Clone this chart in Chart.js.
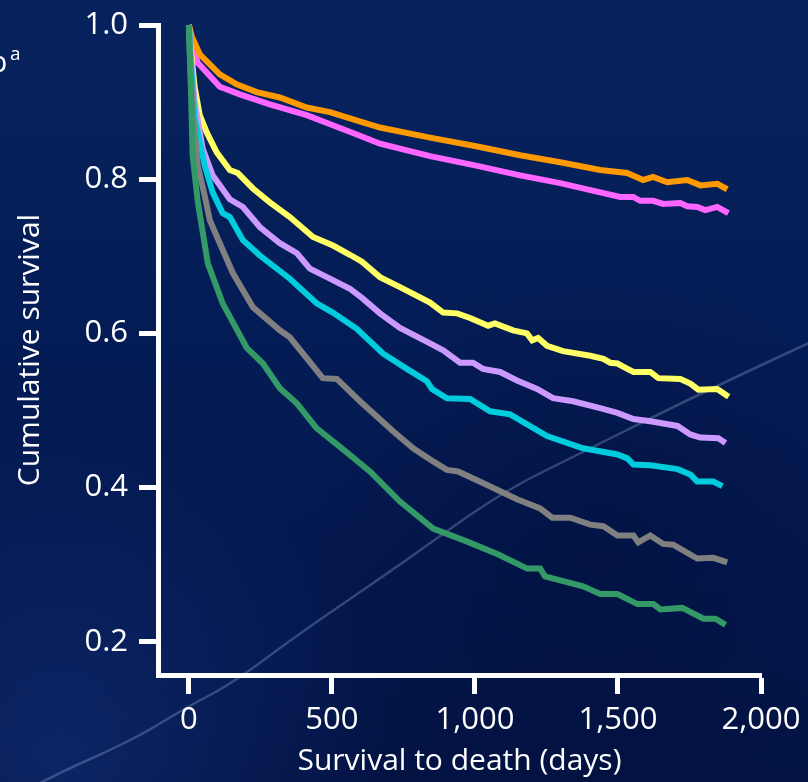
<!DOCTYPE html>
<html>
<head>
<meta charset="utf-8">
<script src="https://cdn.jsdelivr.net/npm/chart.js@4"></script>
<style>
  html, body { margin: 0; padding: 0; background: #05205a; }
  #wrap { width: 808px; height: 782px; position: relative; }
  canvas { display: block; }
</style>
</head>
<body>
<div id="wrap"><canvas id="c" width="808" height="782"></canvas></div>
<script>
// ---- data ----
const xTicks = [0, 500, 1000, 1500, 2000];
const yTicks = [0.2, 0.4, 0.6, 0.8, 1.0];

const orangeDays = [0, 10, 38, 108, 167, 237, 318, 412, 493, 580, 668, 843, 1000, 1158, 1298, 1438, 1532, 1588, 1623, 1672, 1742, 1788, 1847, 1882];
const orangeSurv = [1.0, 0.985, 0.962, 0.936, 0.923, 0.913, 0.906, 0.893, 0.887, 0.877, 0.867, 0.854, 0.843, 0.831, 0.822, 0.812, 0.808, 0.799, 0.803, 0.796, 0.799, 0.792, 0.794, 0.787];

const magentaDays = [0, 10, 31, 108, 178, 283, 412, 503, 587, 668, 843, 1000, 1158, 1298, 1438, 1508, 1553, 1578, 1623, 1658, 1718, 1742, 1777, 1805, 1847, 1886];
const magentaSurv = [1.0, 0.975, 0.951, 0.920, 0.910, 0.897, 0.883, 0.870, 0.858, 0.846, 0.830, 0.818, 0.805, 0.795, 0.783, 0.777, 0.777, 0.772, 0.772, 0.768, 0.769, 0.765, 0.764, 0.760, 0.764, 0.756];

const yellowDays = [0, 5, 20, 38, 62, 97, 143, 171, 224, 283, 353, 434, 504, 563, 605, 668, 738, 843, 889, 938, 983, 1046, 1070, 1133, 1182, 1200, 1221, 1252, 1308, 1403, 1449, 1473, 1498, 1533, 1554, 1613, 1641, 1718, 1753, 1781, 1847, 1887];
const yellowSurv = [1.0, 0.975, 0.92, 0.883, 0.861, 0.835, 0.812, 0.808, 0.788, 0.770, 0.751, 0.725, 0.714, 0.702, 0.693, 0.673, 0.660, 0.640, 0.627, 0.626, 0.620, 0.610, 0.613, 0.604, 0.600, 0.591, 0.594, 0.584, 0.577, 0.571, 0.567, 0.562, 0.561, 0.554, 0.550, 0.550, 0.542, 0.541, 0.535, 0.527, 0.528, 0.518];

const lavenderDays = [0, 5, 20, 48, 83, 143, 189, 248, 318, 378, 423, 493, 563, 605, 668, 738, 843, 889, 948, 993, 1028, 1088, 1147, 1217, 1273, 1343, 1438, 1498, 1554, 1613, 1708, 1753, 1788, 1851, 1876];
const lavenderSurv = [1.0, 0.97, 0.90, 0.840, 0.805, 0.774, 0.764, 0.738, 0.717, 0.704, 0.684, 0.671, 0.658, 0.646, 0.626, 0.607, 0.587, 0.578, 0.562, 0.562, 0.554, 0.550, 0.539, 0.528, 0.516, 0.512, 0.503, 0.497, 0.489, 0.486, 0.480, 0.469, 0.465, 0.464, 0.458];

const cyanDays = [0, 5, 20, 55, 83, 118, 143, 189, 248, 353, 447, 503, 587, 678, 762, 832, 850, 902, 983, 1053, 1123, 1252, 1378, 1498, 1533, 1554, 1613, 1708, 1753, 1777, 1833, 1865];
const cyanSurv = [1.0, 0.96, 0.88, 0.818, 0.783, 0.756, 0.751, 0.721, 0.701, 0.671, 0.639, 0.627, 0.606, 0.574, 0.554, 0.538, 0.528, 0.516, 0.515, 0.499, 0.495, 0.467, 0.451, 0.443, 0.438, 0.430, 0.429, 0.424, 0.417, 0.408, 0.408, 0.402];

const grayDays = [0, 5, 15, 31, 55, 73, 108, 154, 224, 318, 353, 468, 517, 598, 714, 784, 854, 902, 941, 1028, 1147, 1228, 1270, 1333, 1403, 1449, 1498, 1554, 1571, 1613, 1658, 1693, 1777, 1833, 1882];
const graySurv = [1.0, 0.95, 0.88, 0.818, 0.779, 0.747, 0.717, 0.678, 0.634, 0.604, 0.595, 0.542, 0.541, 0.512, 0.473, 0.451, 0.434, 0.423, 0.421, 0.406, 0.385, 0.373, 0.361, 0.361, 0.352, 0.350, 0.338, 0.338, 0.329, 0.338, 0.327, 0.326, 0.308, 0.309, 0.303];

const greenDays = [0, 3, 7, 13, 31, 66, 118, 203, 259, 318, 378, 447, 538, 633, 738, 854, 973, 1078, 1183, 1228, 1245, 1378, 1438, 1498, 1568, 1624, 1648, 1725, 1799, 1841, 1876];
const greenSurv = [1.0, 0.96, 0.916, 0.831, 0.771, 0.691, 0.639, 0.581, 0.561, 0.529, 0.509, 0.477, 0.450, 0.421, 0.382, 0.347, 0.330, 0.314, 0.295, 0.295, 0.285, 0.272, 0.262, 0.262, 0.249, 0.249, 0.242, 0.244, 0.230, 0.230, 0.222];

const seriesList = [
  { days: greenDays,    surv: greenSurv,    color: '#339966' },
  { days: grayDays,     surv: graySurv,     color: '#808080' },
  { days: cyanDays,     surv: cyanSurv,     color: '#00CCDD' },
  { days: lavenderDays, surv: lavenderSurv, color: '#CC99FF' },
  { days: yellowDays,   surv: yellowSurv,   color: '#FFFF66' },
  { days: orangeDays,   surv: orangeSurv,   color: '#FF9900' },
  { days: magentaDays,  surv: magentaSurv,  color: '#FF66FF' }
];

const FONT = "'Open Sans', 'DejaVu Sans', sans-serif";

const bgPlugin = {
  id: 'bg',
  beforeDraw(chart) {
    const ctx = chart.ctx;
    const W = chart.width, H = chart.height;
    ctx.save();
    const g = ctx.createLinearGradient(0, 0, 0, H);
    g.addColorStop(0, '#07235e');
    g.addColorStop(0.45, '#041c55');
    g.addColorStop(0.8, '#03174c');
    g.addColorStop(1, '#021343');
    ctx.fillStyle = g;
    ctx.fillRect(0, 0, W, H);
    // soft lighter swoosh at the bottom-left
    const rg = ctx.createRadialGradient(60, 760, 10, 60, 760, 330);
    rg.addColorStop(0, 'rgba(20,50,125,0.55)');
    rg.addColorStop(1, 'rgba(20,50,125,0)');
    ctx.fillStyle = rg;
    ctx.fillRect(0, 0, W, H);
    // darker band lower right
    const dg = ctx.createRadialGradient(600, 560, 10, 600, 560, 300);
    dg.addColorStop(0, 'rgba(0,10,50,0.35)');
    dg.addColorStop(1, 'rgba(0,10,50,0)');
    ctx.fillStyle = dg;
    ctx.fillRect(0, 0, W, H);
    // thin light arc
    const arc = [[10, 800], [43, 780], [133, 740], [187, 707], [233, 683], [300, 633], [400, 565], [500, 493], [583, 452], [667, 410], [740, 375], [815, 340]];
    ctx.beginPath();
    ctx.moveTo(arc[0][0], arc[0][1]);
    for (let i = 1; i < arc.length - 1; i++) {
      const mx = (arc[i][0] + arc[i + 1][0]) / 2, my = (arc[i][1] + arc[i + 1][1]) / 2;
      ctx.quadraticCurveTo(arc[i][0], arc[i][1], mx, my);
    }
    ctx.lineTo(arc[arc.length - 1][0], arc[arc.length - 1][1]);
    ctx.strokeStyle = 'rgba(150,170,215,0.33)';
    ctx.lineWidth = 2.5;
    ctx.stroke();
    // partial text at top-left edge
    ctx.fillStyle = '#ffffff';
    ctx.textBaseline = 'alphabetic';
    ctx.font = "30px " + FONT;
    ctx.fillText('p', -11, 72);
    ctx.font = "19px " + FONT;
    ctx.fillText('a', 10, 60);
    ctx.restore();
  }
};

new Chart(document.getElementById('c'), {
  type: 'line',
  data: {
    datasets: seriesList.map(s => ({
      data: s.days.map((d, i) => ({ x: d, y: s.surv[i] })),
      borderColor: s.color,
      backgroundColor: s.color,
      borderWidth: 6,
      pointRadius: 0,
      tension: 0,
      fill: false,
      clip: false,
      borderJoinStyle: 'miter',
      borderCapStyle: 'butt'
    }))
  },
  options: {
    responsive: false,
    animation: false,
    devicePixelRatio: 1,
    layout: { padding: { top: 25, right: 47, left: 0, bottom: 0 } },
    plugins: { legend: { display: false }, tooltip: { enabled: false } },
    scales: {
      x: {
        type: 'linear',
        min: -108,
        max: 2000,
        afterBuildTicks: s => { s.ticks = xTicks.map(v => ({ value: v })); },
        afterFit: s => { s.height = 107; s.paddingLeft = 0; s.paddingRight = 0; },
        border: { display: true, color: '#ffffff', width: 5 },
        grid: { display: true, drawOnChartArea: false, drawTicks: true, tickLength: 19, tickWidth: 5, tickColor: '#ffffff', color: '#ffffff' },
        ticks: {
          color: '#ffffff', padding: 8, maxRotation: 0, autoSkip: false,
          font: { family: FONT, size: 31 },
          callback: v => v.toLocaleString('en-US')
        },
        title: {
          display: true, text: 'Survival to death (days)', color: '#ffffff',
          font: { family: FONT, size: 30 }, padding: { top: 0, bottom: 3 }
        }
      },
      y: {
        type: 'linear',
        min: 0.157,
        max: 1.0,
        afterBuildTicks: s => { s.ticks = yTicks.map(v => ({ value: v })); },
        afterFit: s => { s.width = 158; s.paddingTop = 0; s.paddingBottom = 0; },
        border: { display: true, color: '#ffffff', width: 5 },
        grid: { display: true, drawOnChartArea: false, drawTicks: true, tickLength: 19, tickWidth: 5, tickColor: '#ffffff', color: '#ffffff' },
        ticks: {
          color: '#ffffff', padding: 11, autoSkip: false,
          font: { family: FONT, size: 31 },
          callback: v => v.toFixed(1)
        },
        title: {
          display: true, text: 'Cumulative survival', color: '#ffffff',
          font: { family: FONT, size: 30 }, padding: { top: 12, bottom: 0 }
        }
      }
    }
  },
  plugins: [bgPlugin]
});
</script>
</body>
</html>
